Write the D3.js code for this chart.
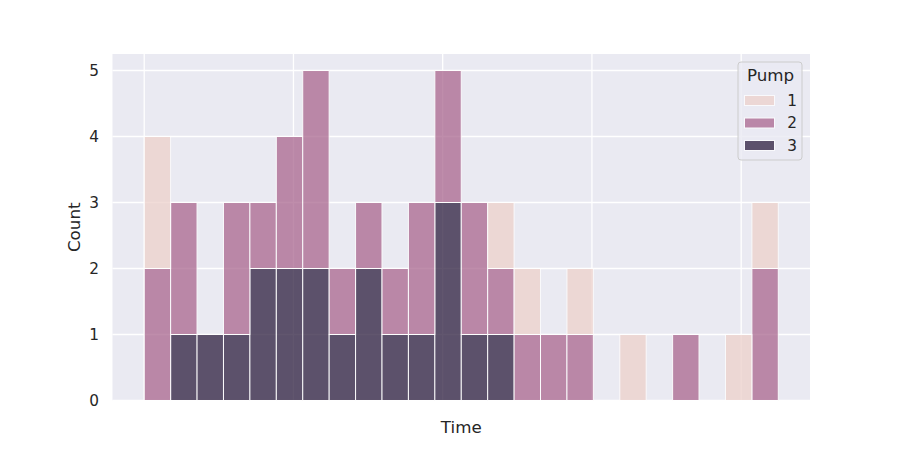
<!DOCTYPE html>
<html>
<head>
<meta charset="utf-8">
<script src="https://cdn.jsdelivr.net/npm/d3@7"></script>
<style>
  html, body { margin: 0; padding: 0; background: #fff; }
  svg { display: block; font-family: "DejaVu Sans", sans-serif; }
</style>
</head>
<body>
<svg id="chart" width="900" height="450"></svg>
<script>
// ---- data (counts per time bin, stacked by pump) ----
const binCount = 24;
const binWidthDays = 1.2392;          // width of one time bin, in days
const pump1 = [2,0,0,0,0,0,0,0,0,0,0,0,0,1,1,0,1,0,1,0,0,0,1,1];
const pump2 = [2,2,0,2,1,2,3,1,1,1,2,2,2,1,1,1,1,0,0,0,1,0,0,2];
const pump3 = [0,1,1,1,2,2,2,1,2,1,1,3,1,1,0,0,0,0,0,0,0,0,0,0];
const pumpLevels = ["1", "2", "3"];
const pumpColors = ["#edd1cb", "#aa678f", "#2d1e3e"];
const xTickDays = [0, 7, 14, 21, 28];  // x grid positions (labels hidden)
const yTicks = [0, 1, 2, 3, 4, 5];

// ---- table built from arrays ----
const rows = d3.range(binCount).map(i => ({
  x0: i * binWidthDays,
  x1: (i + 1) * binWidthDays,
  "1": pump1[i], "2": pump2[i], "3": pump3[i]
}));
// stack order: pump 3 at bottom, then 2, then 1
const stack = d3.stack().keys(["3", "2", "1"]);
const series = stack(rows);
const colorOf = d3.scaleOrdinal().domain(pumpLevels).range(pumpColors);

// ---- layout ----
const svg = d3.select("#chart");
const L = 112.5, R = 810, T = 54, B = 400.5;
const dataMax = binCount * binWidthDays;
const span = dataMax;
const x = d3.scaleLinear().domain([-0.05 * span, dataMax + 0.05 * span]).range([L, R]);
const yMax = d3.max(rows, d => d["1"] + d["2"] + d["3"]);
const y = d3.scaleLinear().domain([0, yMax * 1.05]).range([B, T]);

svg.append("rect").attr("x", L).attr("y", T).attr("width", R - L).attr("height", B - T)
  .attr("fill", "#eaeaf2");

// grid
const grid = svg.append("g").attr("stroke", "#fff").attr("stroke-width", 1.3);
grid.selectAll("line.h").data(yTicks).join("line").attr("class", "h")
  .attr("x1", L).attr("x2", R).attr("y1", d => y(d)).attr("y2", d => y(d));
grid.selectAll("line.v").data(xTickDays).join("line").attr("class", "v")
  .attr("y1", T).attr("y2", B).attr("x1", d => x(d)).attr("x2", d => x(d));

// bars
const bars = svg.append("g");
series.forEach(s => {
  bars.append("g").selectAll("rect")
    .data(s.filter(d => d[1] - d[0] > 0))
    .join("rect")
    .attr("x", d => x(d.data.x0))
    .attr("width", d => x(d.data.x1) - x(d.data.x0))
    .attr("y", d => y(d[1]))
    .attr("height", d => y(d[0]) - y(d[1]))
    .attr("fill", colorOf(s.key))
    .attr("stroke", "#fff")
    .attr("stroke-width", 1)
    .attr("opacity", 0.75);
});

// y axis via d3 axis (no domain / tick lines)
const yAxis = svg.append("g").attr("transform", `translate(${L - 13.5},0)`)
  .call(d3.axisLeft(y).tickValues(yTicks).tickSize(0).tickPadding(0).tickFormat(d3.format("d")));
yAxis.select(".domain").remove();
yAxis.selectAll("text").attr("font-size", 15.3).attr("fill", "#262626")
  .attr("font-family", "DejaVu Sans");

// axis labels
svg.append("text").attr("x", (L + R) / 2).attr("y", 433)
  .attr("text-anchor", "middle").attr("font-size", 16.7).attr("fill", "#262626")
  .text("Time");
svg.append("text").attr("transform", `translate(80,${(T + B) / 2}) rotate(-90)`)
  .attr("text-anchor", "middle").attr("font-size", 16.7).attr("fill", "#262626")
  .text("Count");

// legend
const lg = svg.append("g").attr("transform", "translate(738,62)");
lg.append("rect").attr("width", 64).attr("height", 98).attr("rx", 3)
  .attr("fill", "#eaeaf2").attr("fill-opacity", 0.8)
  .attr("stroke", "#cccccc").attr("stroke-width", 1);
lg.append("text").attr("x", 32.5).attr("y", 19).attr("text-anchor", "middle")
  .attr("font-size", 16.7).attr("fill", "#262626").text("Pump");
pumpLevels.forEach((lev, i) => {
  const cy = 38.5 + i * 22.5;
  lg.append("rect").attr("x", 6.5).attr("y", cy - 5).attr("width", 30).attr("height", 10)
    .attr("fill", colorOf(lev)).attr("stroke", "#fff").attr("stroke-width", 1).attr("opacity", 0.75);
  lg.append("text").attr("x", 59).attr("y", cy).attr("dy", "0.35em")
    .attr("text-anchor", "end").attr("font-size", 15.3).attr("fill", "#262626").text(lev);
});
</script>
</body>
</html>
